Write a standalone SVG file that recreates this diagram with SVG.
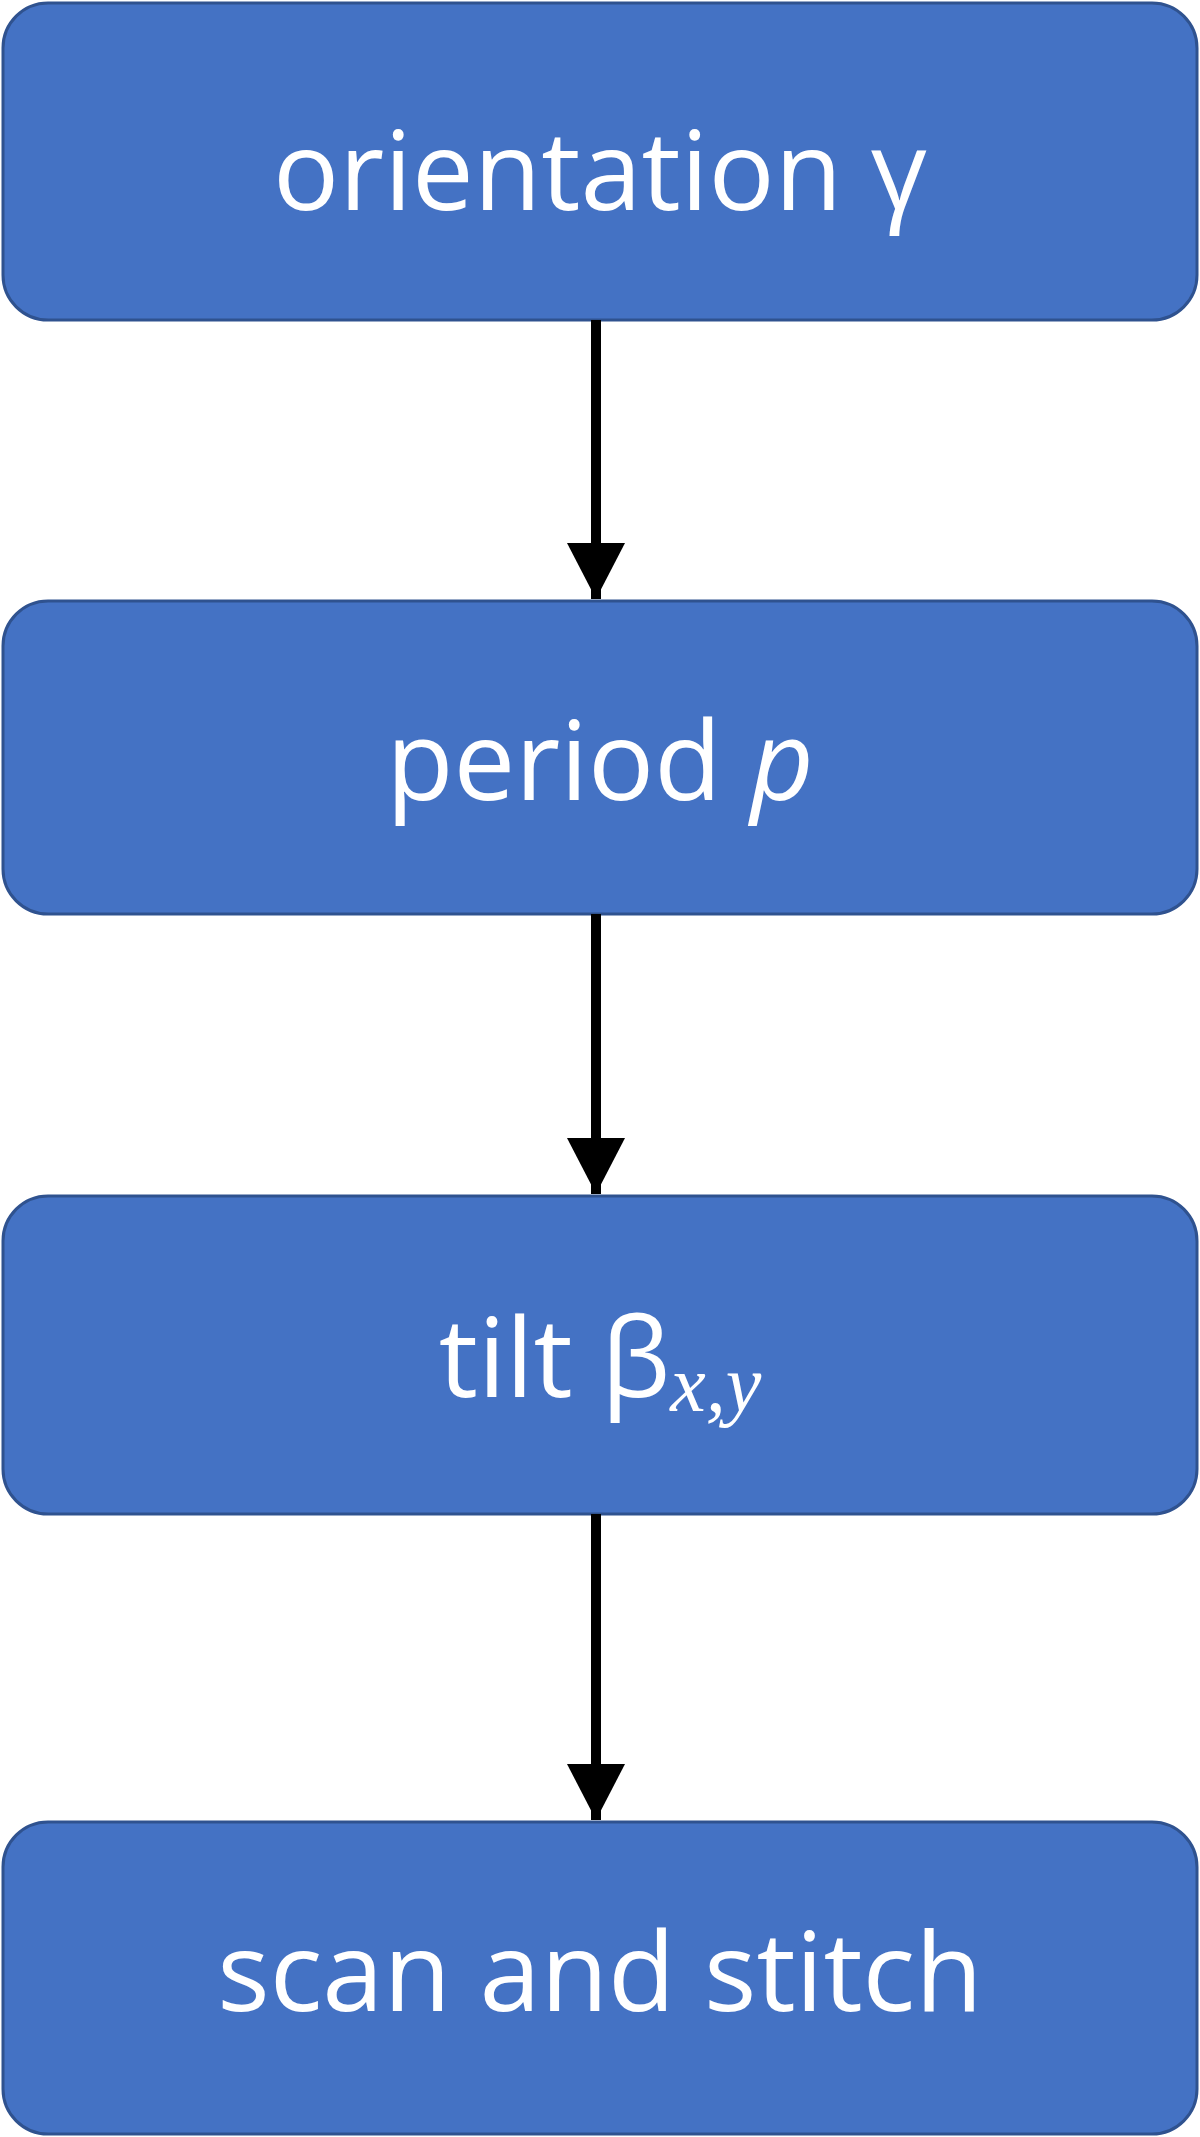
<svg xmlns="http://www.w3.org/2000/svg" width="1200" height="2137" viewBox="0 0 1200 2137">
<style>
.box{fill:#4472C4;stroke:#2F528F;stroke-width:3}
.t{fill:#fff;font-family:"Open Sans","Liberation Sans",sans-serif;font-size:110px;text-anchor:middle}
.c{stroke:#000;stroke-width:10;fill:none}
</style>
<defs><marker id="ah" markerUnits="userSpaceOnUse" markerWidth="56" markerHeight="58" refX="56" refY="29" orient="auto"><path d="M0,0 L56,29 L0,58 Z" fill="#000"/></marker></defs>
<g id="n1"><rect class="box" x="3" y="3" width="1194" height="317" rx="45"/><text class="t" x="600" y="210">orientation γ</text></g>
<g id="n2"><rect class="box" x="3" y="601" width="1194" height="313" rx="45"/><text class="t" x="600" y="800">period <tspan font-style="italic">p</tspan></text></g>
<g id="n3"><rect class="box" x="3" y="1196" width="1194" height="318" rx="45"/><text class="t" x="600" y="1397">tilt β<tspan font-family="Liberation Serif,serif" font-style="italic" font-size="80" dy="14">x,y</tspan></text></g>
<g id="n4"><rect class="box" x="3" y="1822" width="1194" height="312" rx="45"/><text class="t" x="600" y="2011">scan and stitch</text></g>
<g id="connectors">
<line class="c" x1="596" y1="320" x2="596" y2="599" marker-end="url(#ah)"/>
<line class="c" x1="596" y1="914" x2="596" y2="1194" marker-end="url(#ah)"/>
<line class="c" x1="596" y1="1514" x2="596" y2="1820" marker-end="url(#ah)"/>
</g>
</svg>
